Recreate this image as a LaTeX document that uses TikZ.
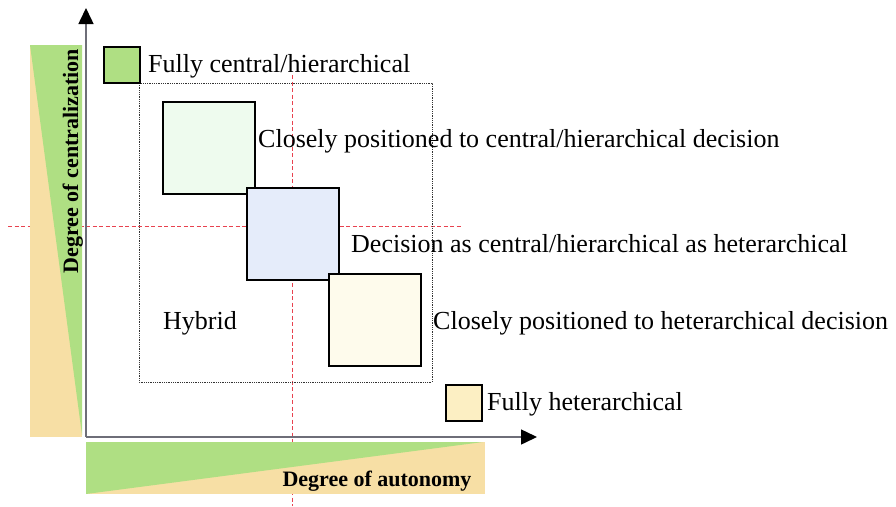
\documentclass[tikz,border=0pt]{standalone}
\usepackage{fontspec}
\setmainfont{Liberation Serif}
\usetikzlibrary{arrows.meta}

\definecolor{leafgreen}{HTML}{AFDF83}
\definecolor{sand}{HTML}{F7DFA5}
\definecolor{mintfill}{HTML}{EEFBEE}
\definecolor{bluefill}{HTML}{E5ECFA}
\definecolor{creamfill}{HTML}{FEFBEC}
\definecolor{sandfill}{HTML}{FCEFC3}
\definecolor{guidered}{HTML}{E8424F}
\definecolor{axisgray}{HTML}{6E6E78}

\tikzset{
  decbox/.style={draw, line width=2pt, minimum width=92pt, minimum height=92pt, inner sep=0pt, anchor=north west},
  chip/.style={draw, line width=1.5pt, minimum size=36pt, inner sep=0pt, anchor=north west},
  txt/.style={anchor=base west, inner sep=0pt, font=\fontsize{26}{30}\selectfont},
  axtxt/.style={anchor=base, inner sep=0pt, font=\bfseries\fontsize{22}{26}\selectfont},
  guideline/.style={guidered, line width=0.8pt, dash pattern=on 4pt off 2.5pt},
  axisline/.style={axisgray, line width=1.5pt, -{Triangle[length=16pt,width=15pt,color=black]}}
}

\begin{document}
\begin{tikzpicture}[x=1pt,y=-1pt]
\useasboundingbox (0,0) rectangle (896,506);

% guides through the middle
\draw[guideline] (292,75) -- (292,506);
\draw[guideline] (8,226) -- (462,226);

% scale bars
\fill[sand] (30,45) rectangle (82,437);
\fill[leafgreen] (30,45) -- (82,45) -- (82,435) -- cycle;
\fill[sand] (86,442) rectangle (485,494);
\fill[leafgreen] (86,442) -- (483,442) -- (86,494) -- cycle;

\node[axtxt, rotate=90] (centlabel) at (78,161) {Degree of centralization};
\node[axtxt] (autolabel) at (377,486) {Degree of autonomy};

% axes
\coordinate (origin) at (86,437);
\coordinate (ytip) at (86,8);
\coordinate (xtip) at (537,437);
\draw[axisline] (origin) -- (ytip);
\draw[axisline] (origin) -- (xtip);

% hybrid zone
\draw[densely dotted, line width=0.8pt, black!80] (139,83) rectangle (432,382);

\node[chip, fill=leafgreen] (central) at (103,46) {};
\node[txt] (centraltxt) at (148,72) {Fully central/hierarchical};

\node[decbox, fill=mintfill] (closecent) at (162,101) {};
\node[decbox, fill=bluefill] (balanced) at (246,187) {};
\node[decbox, fill=creamfill] (closehet) at (328,273) {};

\node[txt] (closecenttxt) at (258,147) {Closely positioned to central/hierarchical decision};
\node[txt] (balancedtxt) at (351,252) {Decision as central/hierarchical as heterarchical};
\node[txt] (closehettxt) at (433,329) {Closely positioned to heterarchical decision};
\node[txt] (hybridtxt) at (163,329) {Hybrid};

\node[chip, fill=sandfill] (hetero) at (445,384) {};
\node[txt] (heterotxt) at (487,410) {Fully heterarchical};
\end{tikzpicture}
\end{document}
